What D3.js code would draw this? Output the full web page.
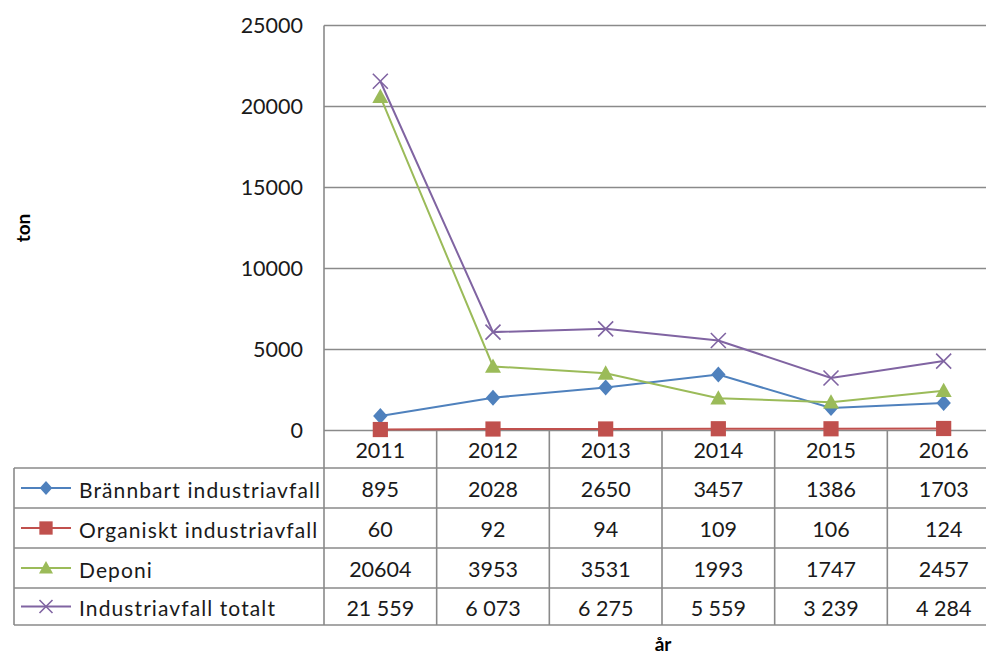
<!DOCTYPE html>
<html><head><meta charset="utf-8">
<script src="https://cdn.jsdelivr.net/npm/d3@7"></script>
<style>
body{margin:0;background:#fff;}
svg{display:block;font-family:Lato, "Open Sans", sans-serif;}
</style></head>
<body>
<svg id="c" width="986" height="656"></svg>
<script>
const years = ["2011","2012","2013","2014","2015","2016"];
const brannbart = [895, 2028, 2650, 3457, 1386, 1703];
const organiskt = [60, 92, 94, 109, 106, 124];
const deponi = [20604, 3953, 3531, 1993, 1747, 2457];
const totalt = [21559, 6073, 6275, 5559, 3239, 4284];
const seriesNames = ["Brännbart industriavfall","Organiskt industriavfall","Deponi","Industriavfall totalt"];
const yTicks = [0, 5000, 10000, 15000, 20000, 25000];
const yTitle = "ton";
const xTitle = "år";

const series = [
  {name: seriesNames[0], values: brannbart, color: "#4F81BD", marker: "diamond", fmt: "plain"},
  {name: seriesNames[1], values: organiskt, color: "#C0504D", marker: "square", fmt: "plain"},
  {name: seriesNames[2], values: deponi, color: "#9BBB59", marker: "triangle", fmt: "plain"},
  {name: seriesNames[3], values: totalt, color: "#8064A2", marker: "x", fmt: "space"}
];

const svg = d3.select("#c");
const plotLeft = 324, plotRight = 1000, plotTop = 25.5, zero = 430.5;
const x = d3.scaleBand().domain(years).range([plotLeft, plotRight]).padding(0);
const cx = d => x(d) + x.bandwidth() / 2;
const y = d3.scaleLinear().domain([0, 25000]).range([zero, plotTop]);

const gridColor = "#8a8a8a";
const textColor = "#1a1a1a";

svg.append("g").selectAll("line").data(yTicks).join("line")
  .attr("x1", plotLeft).attr("x2", 986)
  .attr("y1", d => y(d)).attr("y2", d => y(d))
  .attr("stroke", gridColor).attr("stroke-width", 1.6);

const yAxis = svg.append("g").attr("transform", `translate(${plotLeft},0)`)
  .call(d3.axisLeft(y).tickValues(yTicks).tickSize(0).tickPadding(21).tickFormat(d3.format("d")));
yAxis.select(".domain").remove();
yAxis.selectAll("text").attr("font-size", 21.5).attr("fill", textColor)
  .attr("font-family", "Lato, sans-serif");

const rowTops = [430.5, 468, 508, 548, 588, 625];
const legLeft = 14;

svg.append("line").attr("x1", plotLeft).attr("x2", plotLeft).attr("y1", plotTop).attr("y2", rowTops[5])
  .attr("stroke", gridColor).attr("stroke-width", 1.6);
svg.append("g").selectAll("line").data(years.slice(1)).join("line")
  .attr("x1", d => x(d)).attr("x2", d => x(d))
  .attr("y1", zero).attr("y2", rowTops[5])
  .attr("stroke", gridColor).attr("stroke-width", 1.6);
svg.append("g").selectAll("line").data(rowTops.slice(1)).join("line")
  .attr("x1", legLeft).attr("x2", 986)
  .attr("y1", d => d).attr("y2", d => d)
  .attr("stroke", gridColor).attr("stroke-width", 1.6);
svg.append("line").attr("x1", legLeft).attr("x2", legLeft).attr("y1", rowTops[1]).attr("y2", rowTops[5])
  .attr("stroke", gridColor).attr("stroke-width", 1.6);

svg.append("g").selectAll("text").data(years).join("text")
  .attr("x", d => cx(d)).attr("y", (rowTops[0] + rowTops[1]) / 2 + 1)
  .attr("text-anchor", "middle").attr("dominant-baseline", "central")
  .attr("font-size", 21.5).attr("fill", textColor).text(d => d);

const fmtSpace = d3.formatLocale({decimal: ",", thousands: " ", grouping: [3], currency: ["", ""]}).format(",d");
const fmtPlain = d3.format("d");

function markerPath(type, s) {
  if (type === "diamond") return `M0,${-s}L${s*0.9},0L0,${s}L${-s*0.9},0Z`;
  if (type === "square") return `M${-s*0.95},${-s*0.95}H${s*0.95}V${s*0.95}H${-s*0.95}Z`;
  if (type === "triangle") return `M0,${-s}L${s},${s*0.8}L${-s},${s*0.8}Z`;
  return `M${-s},${-s}L${s},${s}M${-s},${s}L${s},${-s}`;
}
function drawMarker(g, type, color, s) {
  const p = g.append("path").attr("d", markerPath(type, s));
  if (type === "x") p.attr("fill", "none").attr("stroke", color).attr("stroke-width", 1.6);
  else p.attr("fill", color);
}

const line = d3.line().x((d, i) => cx(years[i])).y(d => y(d));
series.forEach(s => {
  svg.append("path").datum(s.values).attr("d", line)
    .attr("fill", "none").attr("stroke", s.color).attr("stroke-width", 2);
});
series.forEach(s => {
  s.values.forEach((v, i) => {
    const g = svg.append("g").attr("transform", `translate(${cx(years[i])},${y(v)})`);
    drawMarker(g, s.marker, s.color, s.marker === "x" ? 7.5 : 8);
  });
});

series.forEach((s, r) => {
  const mid = (rowTops[r + 1] + rowTops[r + 2]) / 2;
  svg.append("line").attr("x1", 21).attr("x2", 71).attr("y1", mid).attr("y2", mid)
    .attr("stroke", s.color).attr("stroke-width", 2);
  const g = svg.append("g").attr("transform", `translate(46,${mid})`);
  drawMarker(g, s.marker, s.color, s.marker === "x" ? 6.5 : 7);
  svg.append("text").attr("x", 79).attr("y", mid + 1).attr("dominant-baseline", "central")
    .attr("font-size", 21).attr("letter-spacing", 1.1).attr("fill", textColor).text(s.name);
  svg.append("g").selectAll("text").data(s.values).join("text")
    .attr("x", (d, i) => cx(years[i])).attr("y", mid + 1)
    .attr("text-anchor", "middle").attr("dominant-baseline", "central")
    .attr("font-size", 21.5).attr("fill", textColor)
    .text(d => s.fmt === "space" ? fmtSpace(d) : fmtPlain(d));
});

svg.append("text").attr("transform", "translate(22,228) rotate(-90)")
  .attr("text-anchor", "middle").attr("dominant-baseline", "central")
  .attr("font-size", 19).attr("font-weight", "bold").attr("fill", "#000").text(yTitle);
svg.append("text").attr("x", 663).attr("y", 643)
  .attr("text-anchor", "middle").attr("dominant-baseline", "central")
  .attr("font-size", 19).attr("font-weight", "bold").attr("fill", "#000").text(xTitle);
</script>
</body></html>
